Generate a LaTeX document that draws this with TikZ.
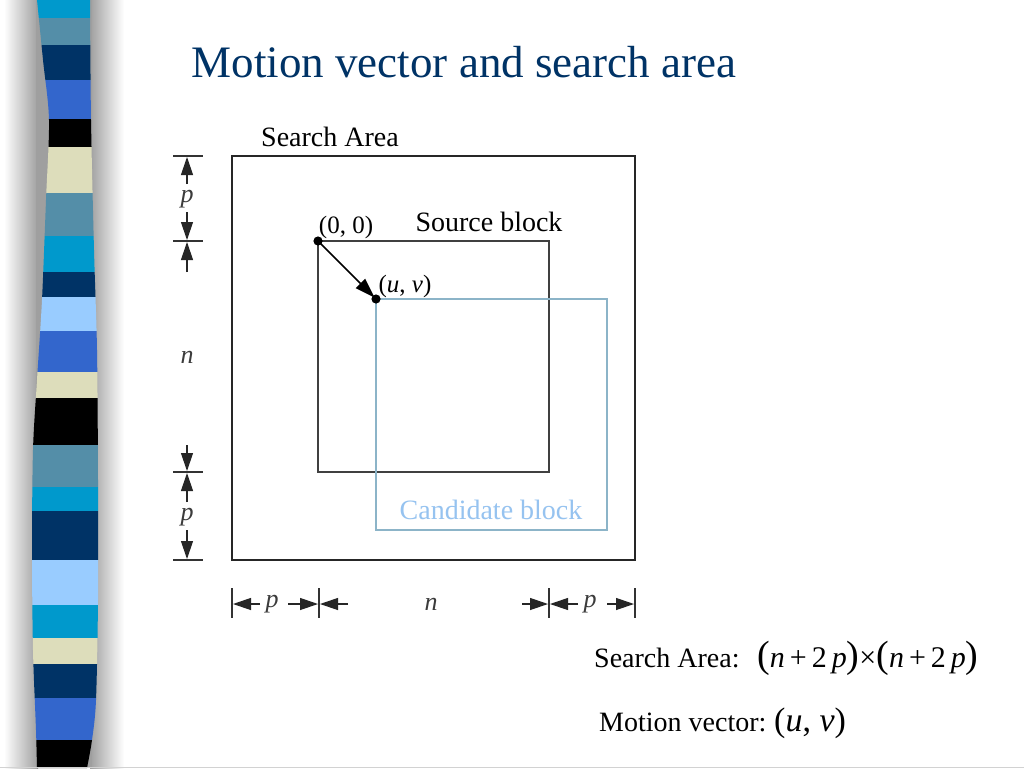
\documentclass[tikz,border=0pt]{standalone}
\usepackage{fontspec}
\setmainfont{Liberation Serif}
\usetikzlibrary{arrows.meta}
\definecolor{titleblue}{RGB}{0,51,102}
\definecolor{cyanb}{RGB}{0,153,204}
\definecolor{steelb}{RGB}{84,142,168}
\definecolor{navyb}{RGB}{0,51,102}
\definecolor{royalb}{RGB}{51,102,204}
\definecolor{creamb}{RGB}{221,221,187}
\definecolor{lightb}{RGB}{153,204,255}
\definecolor{candline}{RGB}{140,180,200}
\definecolor{candtext}{RGB}{150,195,240}
\definecolor{dimgray}{RGB}{60,60,60}
\tikzset{
  lbl/.style={inner sep=0pt, font=\fontsize{28}{30}\selectfont},
  dimlbl/.style={inner sep=0pt, text=dimgray, font=\fontsize{26}{28}\selectfont\itshape},
  ptlbl/.style={inner sep=0pt, font=\fontsize{25}{27}\selectfont},
  dimarrow/.style={-{Triangle[length=18pt,width=12pt]}, line width=1.2pt, draw=black!85},
  dimtick/.style={line width=1.1pt, draw=black!80},
}
\begin{document}
\begin{tikzpicture}[x=1pt,y=-1pt]
\useasboundingbox (0,0) rectangle (1024,768);
\fill[white] (0,0) rectangle (1024,768);
% decorative bar shadow
\shade[left color=white, right color=gray!75] (4,0) rectangle (38,768);
\shade[left color=gray!75, right color=white] (90,0) rectangle (124,768);
\fill[gray!75] (36,0) rectangle (92,768);
% decorative bar
\begin{scope}
\clip plot[smooth] coordinates {(37,0) (43,60) (49,120) (46,200) (42,300) (37,380) (33,450) (32,550) (33,650) (36,730) (37,768)}
  -- plot[smooth] coordinates {(87,768) (92,740) (96,700) (98,600) (98,480) (97,350) (94,250) (91,120) (90,0)} -- cycle;
\foreach \c/\a/\b in {cyanb/0/18, steelb/18/45, navyb/45/80, royalb/80/119, black/119/147,
  creamb/147/193, steelb/193/236, cyanb/236/272, navyb/272/297, lightb/297/331, royalb/331/372,
  creamb/372/398, black/398/445, steelb/445/487, cyanb/487/511, navyb/511/560, lightb/560/605,
  cyanb/605/638, creamb/638/664, navyb/664/698, royalb/698/740, black/740/769}
  \fill[\c] (20,\a) rectangle (120,\b);
\end{scope}
\draw[gray!35, line width=1pt] (0,767) -- (1024,767);
% title
\node[inner sep=0pt, text=titleblue, font=\fontsize{45}{48}\selectfont] (title) at (464,62) {Motion vector and search area};
% boxes
\coordinate (sa1) at (232,156); \coordinate (sa2) at (635,560);
\coordinate (o) at (318,241); \coordinate (sb2) at (549,472);
\coordinate (uv) at (376,299); \coordinate (cb2) at (607,530);
\draw[line width=1.4pt, black!85] (sa1) rectangle (sa2);
\draw[line width=1.4pt, black!75] (o) rectangle (sb2);
\draw[line width=1.3pt, candline] (uv) rectangle (cb2);
\fill (o) circle (4.6pt);
\fill (uv) circle (4.6pt);
\draw[-{Triangle[length=20pt,width=13pt]}, line width=1.6pt, shorten >=2pt] (o) -- (uv);
\node[ptlbl] (l00) at (346,227) {(0, 0)};
\node[ptlbl] (luv) at (405,286) {(\textit{u}, \textit{v})};
\node[lbl, anchor=base] (lsa) at (330,146) {Search Area};
\node[lbl, anchor=base] (lsb) at (489,231) {Source block};
\node[lbl, anchor=base, text=candtext] (lcb) at (491,519) {Candidate block};
% vertical dimensions
\foreach \y in {156,241,472,560} \draw[dimtick] (173,\y) -- (203,\y);
\draw[dimarrow] (187,184) -- (187,157);
\draw[dimarrow] (187,212) -- (187,240);
\draw[dimarrow] (187,272) -- (187,242);
\draw[dimarrow] (187,445) -- (187,471);
\draw[dimarrow] (187,502) -- (187,473);
\draw[dimarrow] (187,530) -- (187,559);
\node[dimlbl] (vp1) at (187,199) {p};
\node[dimlbl] (vn) at (187,357) {n};
\node[dimlbl] (vp2) at (187,517) {p};
% horizontal dimensions
\foreach \x in {232,319,549,635} \draw[dimtick] (\x,588) -- (\x,618);
\draw[dimarrow] (260,604) -- (233,604);
\draw[dimarrow] (288,604) -- (318,604);
\draw[dimarrow] (348,604) -- (320,604);
\draw[dimarrow] (522,604) -- (548,604);
\draw[dimarrow] (578,604) -- (550,604);
\draw[dimarrow] (607,604) -- (634,604);
\node[dimlbl] (hp1) at (272,604) {p};
\node[dimlbl] (hn) at (431,604) {n};
\node[dimlbl] (hp2) at (590,604) {p};
% formulas
\node[lbl, anchor=base west] (fsa) at (594,667) {Search Area:};
\node[inner sep=0pt, anchor=base west, font=\fontsize{30}{32}\selectfont] (fexp) at (757,667)
  {{\fontsize{38}{40}\selectfont(}\textit{n}\,+\,2\,\textit{p}{\fontsize{38}{40}\selectfont)}×{\fontsize{38}{40}\selectfont(}\textit{n}\,+\,2\,\textit{p}{\fontsize{38}{40}\selectfont)}};
\node[lbl, anchor=base west] (fmv) at (599,731) {Motion vector:};
\node[inner sep=0pt, anchor=base west, font=\fontsize{34}{36}\selectfont] (fuv) at (774,731) {(\textit{u}, \textit{v})};
\end{tikzpicture}
\end{document}
